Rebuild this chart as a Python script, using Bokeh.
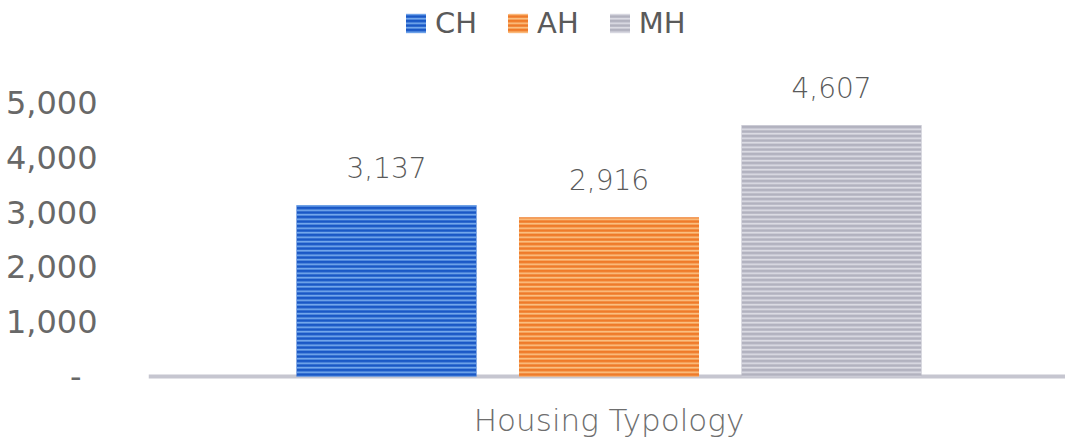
from bokeh.plotting import figure
from bokeh.models import (ColumnDataSource, Range1d, FixedTicker, CustomJSTickFormatter,
                          Legend, LegendItem, LabelSet, Label, Span)
from bokeh.core.properties import value
from bokeh.embed import file_html
from bokeh.resources import INLINE

# ---- data ----
series = ["CH", "AH", "MH"]
values = [3137, 2916, 4607]
value_labels = ["3,137", "2,916", "4,607"]
y_ticks = [0, 1000, 2000, 3000, 4000, 5000]
x_title = "Housing Typology"

# ---- styles ----
fill_colors = ["#1a58c6", "#ef7b2a", "#b2b2bf"]
hatch_colors = ["#7fb2f0", "#fcc88c", "#e0e0e8"]
FONT = "DejaVu Sans"
LIGHT = "DejaVu Sans Light"
TXT = "#5a5a5a"

src = ColumnDataSource(dict(
    x=list(range(len(series))),
    top=values,
    series=series,
    lab=value_labels,
    fill=fill_colors,
    hatch=hatch_colors,
))

p = figure(width=1065, height=440, output_backend="svg", toolbar_location=None,
           x_range=Range1d(-1.0697, 3.0516), y_range=Range1d(-1172, 6886),
           min_border_left=148, min_border_right=0, min_border_top=0,
           min_border_bottom=0)
p.outline_line_color = None
p.xgrid.grid_line_color = None
p.ygrid.grid_line_color = None
p.background_fill_color = "white"
p.border_fill_color = "white"
p.xaxis.visible = False

base = Span(location=0, dimension="width", line_color="#c6c6d0", line_width=4, level="underlay")
p.add_layout(base)

r = p.vbar(x="x", top="top", width=0.809, bottom=0, source=src,
           fill_color="fill", line_color=None,
           hatch_pattern="horizontal_line", hatch_color="hatch",
           hatch_scale=4.5, hatch_weight=1.6)

labels = LabelSet(x="x", y="top", text="lab", source=src, y_offset=27,
                  text_align="center", text_baseline="alphabetic",
                  text_font=value(LIGHT), text_font_size="28px", text_color=TXT)
p.add_layout(labels)

title = Label(x=1, y=-790, text=x_title, text_align="center", text_baseline="middle",
              text_font=LIGHT, text_font_size="31px", text_color="#6e6e6e")
p.add_layout(title)

# y axis
ya = p.yaxis[0]
ya.ticker = FixedTicker(ticks=y_ticks)
ya.formatter = CustomJSTickFormatter(code="""
    if (tick == 0) { return "-\u2002"; }
    return tick.toLocaleString('en-US');
""")
ya.axis_line_color = None
ya.major_tick_line_color = None
ya.minor_tick_line_color = None
ya.major_label_standoff = 45
ya.major_label_text_font = FONT
ya.major_label_text_font_size = "32px"
ya.major_label_text_color = "#686868"

legend = Legend(items=[LegendItem(label=s, renderers=[r], index=i) for i, s in enumerate(series)],
                orientation="horizontal", location=(255, 400),
                background_fill_alpha=0, border_line_color=None,
                padding=0, margin=0, spacing=28, label_standoff=7,
                glyph_width=25, glyph_height=24, label_height=30,
                label_text_font=FONT, label_text_font_size="29px",
                label_text_color=TXT)
p.add_layout(legend)

open("out.html", "w").write(file_html(p, INLINE))
